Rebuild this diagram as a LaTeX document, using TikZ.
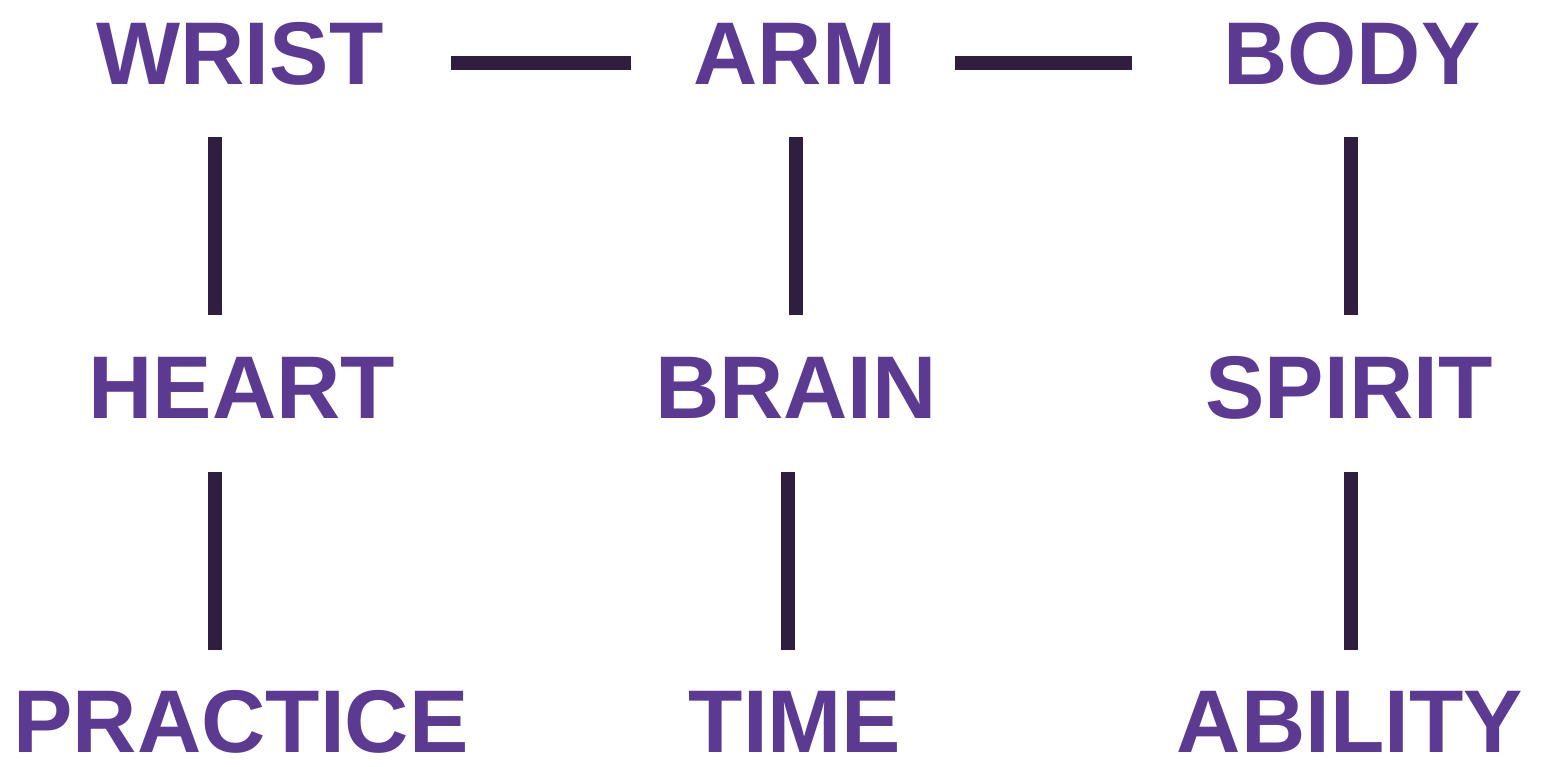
\documentclass[tikz,border=0pt]{standalone}
\usepackage{fontspec}
\setmainfont{Liberation Sans}
\definecolor{wordc}{HTML}{5C3A92}
\definecolor{linec}{HTML}{2F1E3F}
\begin{document}
\begin{tikzpicture}[x=1pt,y=-1pt,
  word/.style={anchor=base,inner sep=0pt,text depth=0pt,text=wordc,font=\fontsize{89}{89}\selectfont\bfseries},
  conn/.style={draw=linec,line width=13.5pt,line cap=butt}]
\useasboundingbox[fill=white] (0,0) rectangle (1542,766);
\node[word] (wrist) at (240,84) {WRIST};
\node[word] (arm) at (795,84) {ARM};
\node[word] (body) at (1352,84) {BODY};
\node[word] (heart) at (242,418) {HEART};
\node[word] (brain) at (796,418) {BRAIN};
\node[word] (spirit) at (1349,418) {SPIRIT};
\node[word] (practice) at (241,752) {PRACTICE};
\node[word] (time) at (795,752) {TIME};
\node[word] (ability) at (1350,752) {ABILITY};
% connector end points
\coordinate (h1a) at (451,63); \coordinate (h1b) at (631,63);
\coordinate (h2a) at (955,63); \coordinate (h2b) at (1132,63);
\coordinate (v1a) at (215,137); \coordinate (v1b) at (215,315);
\coordinate (v2a) at (796,137); \coordinate (v2b) at (796,315);
\coordinate (v3a) at (1351,137); \coordinate (v3b) at (1351,315);
\coordinate (v4a) at (215,472); \coordinate (v4b) at (215,650);
\coordinate (v5a) at (788,472); \coordinate (v5b) at (788,650);
\coordinate (v6a) at (1351,472); \coordinate (v6b) at (1351,650);
\draw[conn] (h1a) -- (h1b);
\draw[conn] (h2a) -- (h2b);
\draw[conn] (v1a) -- (v1b);
\draw[conn] (v2a) -- (v2b);
\draw[conn] (v3a) -- (v3b);
\draw[conn] (v4a) -- (v4b);
\draw[conn] (v5a) -- (v5b);
\draw[conn] (v6a) -- (v6b);
\end{tikzpicture}
\end{document}
